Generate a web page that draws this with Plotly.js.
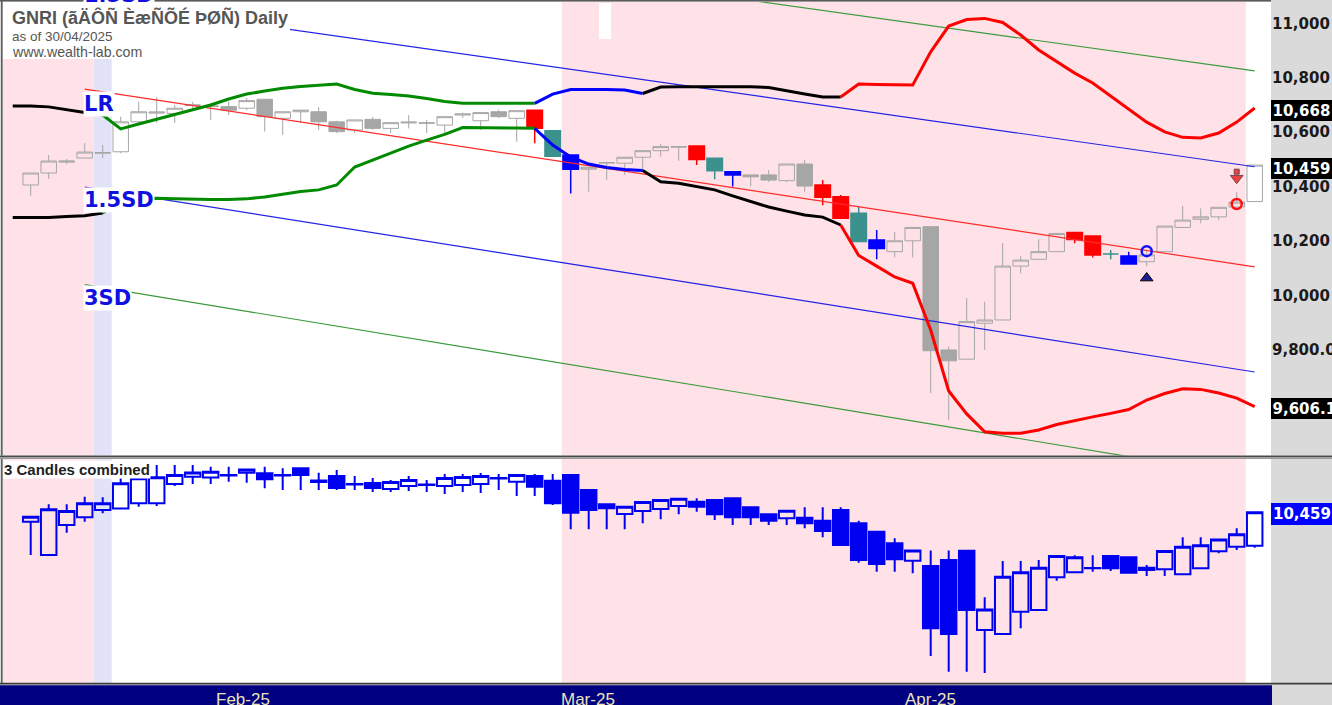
<!DOCTYPE html>
<html><head><meta charset="utf-8">
<script src="https://cdn.plot.ly/plotly-3.0.1.min.js"></script>
<style>html,body{margin:0;padding:0;background:#fff;overflow:hidden}#chart{width:1332px;height:705px}</style>
</head><body><div id="chart"></div>
<script>
// ---------------- DATA ----------------
const titleText = "GNRI (ãÄÔÑ ÈæÑÕÉ ÞØÑ) Daily";
const asOfText = "as of 30/04/2025";
const siteText = "www.wealth-lab.com";
const monthLabels = ["Feb-25", "Mar-25", "Apr-25"];

// daily candles (upper pane)
const openU  = [10406,10450,10490,10505,10523,10528,10638,10670,10669,10698,10694,10694,10688,10721,10651,10675,10675,10638,10608,10647,10614,10634,10633,10626,10663,10642,10675,10651,10681,10605,10516,10464,10487,10486,10508,10532,10545,10549,10504,10455,10443,10443,10422,10483,10406,10363,10302,10204,10161,10201,10253,9800,9766,9898,9910,10108,10133,10161,10231,10219,10152,10145,10124,10161,10250,10280,10289,10325,10345];
const highU  = [10450,10516,10501,10560,10553,10657,10712,10729,10700,10712,10707,10712,10726,10721,10675,10681,10692,10642,10645,10656,10635,10663,10645,10657,10672,10672,10683,10679,10681,10605,10516,10472,10491,10508,10532,10557,10548,10549,10504,10455,10443,10461,10483,10498,10424,10369,10326,10241,10234,10250,10253,9812,9990,9977,10192,10145,10206,10228,10231,10219,10167,10161,10163,10255,10329,10320,10324,10380,10479];
const lowU   = [10366,10428,10483,10505,10505,10523,10626,10634,10634,10681,10645,10663,10681,10602,10590,10634,10608,10597,10597,10608,10597,10614,10597,10590,10652,10608,10652,10565,10559,10512,10375,10381,10424,10443,10458,10510,10495,10479,10427,10400,10402,10417,10417,10381,10332,10284,10198,10133,10140,10140,9641,9543,9766,9800,9910,10081,10133,10161,10192,10140,10133,10116,10108,10161,10250,10265,10277,10325,10345];
const closeU = [10450,10494,10494,10527,10525,10638,10675,10674,10688,10700,10696,10681,10716,10657,10675,10681,10638,10602,10645,10614,10635,10637,10634,10657,10667,10672,10657,10679,10614,10512,10464,10471,10488,10508,10532,10547,10547,10500,10458,10443,10436,10424,10483,10402,10361,10284,10198,10173,10201,10250,9797,9760,9904,9910,10108,10130,10161,10228,10206,10149,10152,10116,10149,10255,10277,10289,10324,10343,10479];

// pattern-highlighted bars
const redBars  = [28,37,44,45,58,59];
const tealBars = [29,38,46,60];
const blueBars = [30,39,47,61];

// "3 Candles combined" (lower pane)
const openL  = [10424,10228,10404,10450,10492,10502,10532,10532,10645,10688,10684,10695,10711,10708,10698,10737,10666,10692,10645,10651,10616,10633,10639,10633,10639,10645,10677,10659,10692,10664,10698,10610,10526,10469,10487,10498,10516,10541,10551,10561,10508,10467,10444,10447,10430,10492,10414,10365,10297,10195,10164,10199,10253,9788,9764,9895,9905,10097,10127,10150,10222,10215,10154,10144,10115,10150,10250,10277,10283];
const highL  = [10453,10526,10526,10571,10567,10679,10680,10757,10757,10757,10747,10747,10731,10747,10737,10737,10711,10727,10692,10680,10669,10692,10669,10704,10704,10710,10704,10698,10704,10704,10698,10610,10526,10512,10540,10551,10559,10561,10551,10561,10508,10467,10488,10508,10508,10508,10430,10365,10326,10254,10254,10254,10254,9980,10193,10193,10199,10222,10227,10227,10222,10215,10170,10252,10332,10332,10320,10385,10479];
const lowL   = [10228,10228,10359,10424,10473,10502,10512,10516,10633,10645,10645,10659,10653,10620,10610,10610,10610,10610,10610,10598,10598,10604,10598,10586,10598,10592,10610,10575,10575,10522,10379,10379,10379,10379,10414,10438,10467,10482,10434,10404,10404,10404,10404,10385,10332,10287,10183,10130,10130,10121,9635,9543,9543,9535,9764,9798,9905,10077,10127,10130,10134,10124,10105,10105,10115,10150,10238,10258,10271];
const closeL = [10453,10497,10487,10532,10532,10649,10679,10685,10698,10712,10717,10698,10731,10673,10695,10698,10657,10622,10642,10622,10657,10669,10642,10680,10686,10692,10680,10698,10629,10532,10477,10493,10503,10512,10540,10551,10559,10512,10467,10450,10450,10430,10488,10414,10369,10287,10199,10175,10203,10254,9798,9764,9905,9908,10101,10127,10154,10222,10215,10152,10150,10124,10140,10252,10277,10285,10320,10350,10479];

// bands (first value belongs to the bar just before the visible window)
const bandFirstBar = -1;
const upperBand = [10696,10696,10693,10682,10672,10663,10612,10630,10647,10665,10682,10700,10722,10740,10751,10761,10768,10773,10777,10757,10743,10738,10733,10724,10713,10706,10706,10706,10706,10706,10740,10757,10758,10757,10755,10742,10766,10767,10767,10767,10767,10767,10764,10751,10740,10729,10729,10777,10775,10773,10773,10895,10990,11014,11018,11003,10957,10902,10858,10817,10781,10733,10685,10637,10601,10581,10579,10597,10637,10689];
const lowerBand = [10287,10287,10287,10290,10293,10303,10355,10356,10357,10355,10353,10353,10353,10355,10362,10373,10382,10388,10406,10472,10498,10524,10549,10571,10592,10617,10617,10616,10615,10614,10553,10509,10483,10470,10463,10459,10418,10412,10400,10388,10366,10345,10325,10310,10296,10288,10259,10147,10108,10068,10045,9873,9649,9565,9499,9494,9494,9506,9526,9541,9554,9567,9581,9616,9640,9657,9655,9642,9623,9592];
const bandRegimeBreaks = [-1,4,28,34,45,68];

// linear regression channel (start / end bar)
const channelIdx = [3, 68];
const lrLine = [10758, 10105];
const sdUp15 = [11085, 10473];
const sdUp30 = [11427, 10825];
const sdDn15 = [10398, 9719];
const sdDn30 = [10040, 9332];

// signals
const buySignal  = {bar: 62, circle: 10163, triangle: 10064};
const sellSignal = {bar: 67, circle: 10336, arrow: 10435};

// right-axis tick labels and value flags
const yTickVals = [9800,10000,10200,10400,10600,10800,11000];
const yTickText = ["9,800.0","10,000","10,200","10,400","10,600","10,800","11,000"];
const flagTextU = ["10,668","10,459","9,606.1"];
const flagValU  = [10680, 10467, 9583];
const flagTextL = "10,459";
const flagValL  = 10467;

// ---------------- LAYOUT HELPERS ----------------
const W = 1332, H = 705, PL = 3, PR = 1271, PT = 2, PB = 683;
const px2x = p => (p - PL) / (PR - PL);
const px2y = p => (PB - p) / (PB - PT);
const barPx = 18, firstBarPx = 30.7;
const xr0 = -(firstBarPx - PL) / barPx, xr1 = xr0 + (PR - PL) / barPx;
const monthTickPx = [243.5, 588, 930];

const N = closeU.length;
const idx = Array.from({length: N}, (_, i) => i);
const bandIdx = upperBand.map((_, k) => k + bandFirstBar);
const pick = (a, l) => l.map(i => a[i]);
const sigSet = new Set([...redBars, ...tealBars, ...blueBars]);
const plain = idx.filter(i => !sigSet.has(i));

const GRAY = '#a6a6a6', PINK = '#ffe2e7', LAV = '#e2e2f8';
const traces = [];

traces.push({type:'candlestick', x: pick(idx, plain), open: pick(openU, plain), high: pick(highU, plain),
  low: pick(lowU, plain), close: pick(closeU, plain), xaxis:'x', yaxis:'y', whiskerwidth:0,
  increasing:{line:{color:GRAY, width:1}, fillcolor:'rgba(0,0,0,0)'},
  decreasing:{line:{color:GRAY, width:1}, fillcolor:GRAY}, hoverinfo:'skip'});

[[redBars,'#ff0000'],[tealBars,'#3a918d'],[blueBars,'#0000ff']].forEach(([l,c]) => {
  traces.push({type:'candlestick', x: pick(idx,l), open: pick(openU,l), high: pick(highU,l),
    low: pick(lowU,l), close: pick(closeU,l), xaxis:'x', yaxis:'y', whiskerwidth:0,
    increasing:{line:{color:c, width:1.5}, fillcolor:c}, decreasing:{line:{color:c, width:1.5}, fillcolor:c}, hoverinfo:'skip'});
});

// channel lines
[[sdUp30,'#3a9a3a'],[sdUp15,'#2424e6'],[lrLine,'#ff2a2a'],[sdDn15,'#2424e6'],[sdDn30,'#3a9a3a']].forEach(([v,c]) => {
  traces.push({type:'scatter', mode:'lines', x: channelIdx, y: v, xaxis:'x', yaxis:'y',
    line:{color:c, width:1.2}, hoverinfo:'skip'});
});

// bands
const regimeColors = ['#000000','#008a00','#0000ff','#000000','#ff0000'];
for (let k = 0; k < bandRegimeBreaks.length - 1; k++) {
  const a = bandRegimeBreaks[k] - bandFirstBar, b = bandRegimeBreaks[k+1] - bandFirstBar;
  [upperBand, lowerBand].forEach(band => {
    traces.push({type:'scatter', mode:'lines', x: bandIdx.slice(a, b+1), y: band.slice(a, b+1),
      xaxis:'x', yaxis:'y', line:{color: regimeColors[k], width:3}, hoverinfo:'skip'});
  });
}

// signals
traces.push({type:'scatter', mode:'markers', x:[buySignal.bar], y:[buySignal.triangle], xaxis:'x', yaxis:'y',
  marker:{symbol:'triangle-up', size:11, color:'#1e1e96', line:{color:'#000', width:1}}, hoverinfo:'skip'});
traces.push({type:'scatter', mode:'markers', x:[buySignal.bar], y:[buySignal.circle], xaxis:'x', yaxis:'y',
  marker:{symbol:'circle-open', size:10, color:'#1010ff', line:{width:2.5}}, hoverinfo:'skip'});
traces.push({type:'scatter', mode:'markers', x:[sellSignal.bar], y:[sellSignal.circle], xaxis:'x', yaxis:'y',
  marker:{symbol:'circle-open', size:10, color:'#ff1010', line:{width:2.5}}, hoverinfo:'skip'});
traces.push({type:'scatter', mode:'markers', x:[sellSignal.bar, sellSignal.bar], y:[sellSignal.arrow + 20, sellSignal.arrow - 4], xaxis:'x', yaxis:'y',
  marker:{symbol:['square','triangle-down'], size:[5,11], color:'#e00000', line:{color:'#400000', width:1}}, hoverinfo:'skip'});

// lower pane candles
const BLUE = '#0000f0';
traces.push({type:'candlestick', x: idx, open: openL, high: highL, low: lowL, close: closeL,
  xaxis:'x', yaxis:'y2', whiskerwidth:0,
  increasing:{line:{color:BLUE, width:2}, fillcolor:'rgba(0,0,0,0)'},
  decreasing:{line:{color:BLUE, width:2}, fillcolor:BLUE}, hoverinfo:'skip'});

// ---------------- SHAPES ----------------
const shapes = [
  {type:'rect', xref:'x', yref:'paper', x0:xr0-1, x1:3.5, y0:0, y1:1, fillcolor:PINK, line:{width:0}, layer:'below'},
  {type:'rect', xref:'x', yref:'paper', x0:3.5, x1:4.5, y0:0, y1:1, fillcolor:LAV, line:{width:0}, layer:'below'},
  {type:'rect', xref:'x', yref:'paper', x0:29.5, x1:67.5, y0:0, y1:1, fillcolor:PINK, line:{width:0}, layer:'below'},
  // title box
  {type:'rect', xref:'paper', yref:'paper', x0:px2x(3), x1:px2x(290), y0:px2y(59), y1:px2y(2), fillcolor:'#ffffff', line:{width:0}, layer:'above'},
  {type:'rect', xref:'paper', yref:'paper', x0:px2x(599), x1:px2x(611), y0:px2y(39), y1:px2y(3), fillcolor:'#ffffff', line:{width:0}, layer:'above'},
  // frame / separators
  {type:'line', xref:'paper', yref:'paper', x0:px2x(0), x1:px2x(PR), y0:px2y(0.7), y1:px2y(0.7), line:{color:'#5a5a5a', width:1.5}, layer:'above'},
  {type:'line', xref:'paper', yref:'paper', x0:px2x(1.8), x1:px2x(1.8), y0:px2y(0), y1:px2y(684), line:{color:'#5a5a5a', width:1.5}, layer:'above'},
  {type:'rect', xref:'paper', yref:'paper', x0:px2x(0), x1:px2x(W), y0:px2y(459), y1:px2y(455.5), fillcolor:'#ffffff', line:{width:0}, layer:'above'},
  {type:'line', xref:'paper', yref:'paper', x0:px2x(0), x1:px2x(W), y0:px2y(456.5), y1:px2y(456.5), line:{color:'#4a4a4a', width:2}, layer:'above'},
  {type:'line', xref:'paper', yref:'paper', x0:px2x(0), x1:px2x(W), y0:px2y(458.5), y1:px2y(458.5), line:{color:'#9a9a9a', width:1}, layer:'above'},
  {type:'line', xref:'paper', yref:'paper', x0:px2x(0), x1:px2x(W), y0:px2y(683.6), y1:px2y(683.6), line:{color:'#3c3c3c', width:1.6}, layer:'above'},
  {type:'rect', xref:'paper', yref:'paper', x0:px2x(0), x1:px2x(1272), y0:px2y(706), y1:px2y(685.3), fillcolor:'#000080', line:{width:0}, layer:'above'}
];

// ---------------- ANNOTATIONS ----------------
const ann = [];
const titleFont = {family:'Liberation Sans, Arial, sans-serif', color:'#565656'};
ann.push({xref:'paper', yref:'paper', x:px2x(10), y:px2y(17.5), xanchor:'left', yanchor:'middle', showarrow:false,
  text:titleText, font:Object.assign({size:18, weight:'bold'}, titleFont)});
ann.push({xref:'paper', yref:'paper', x:px2x(10), y:px2y(36), xanchor:'left', yanchor:'middle', showarrow:false,
  text:asOfText, font:Object.assign({size:13.5}, titleFont)});
ann.push({xref:'paper', yref:'paper', x:px2x(10), y:px2y(52), xanchor:'left', yanchor:'middle', showarrow:false,
  text:siteText, font:Object.assign({size:14.2}, titleFont)});

const lblFont = {family:'DejaVu Sans, Verdana, sans-serif', size:21, color:'#1010e0', weight:'bold'};
[['1.5SD',-5],['LR',104],['1.5SD',199.5],['3SD',297.5]].forEach(([t,py]) => {
  ann.push({xref:'paper', yref:'paper', x:px2x(83), y:px2y(py), xanchor:'left', yanchor:'middle', showarrow:false,
    text:t, font:lblFont, bgcolor:'#ffffff', borderpad:0});
});

ann.push({xref:'paper', yref:'paper', x:px2x(3), y:px2y(469), xanchor:'left', yanchor:'middle', showarrow:false,
  text:'3 Candles combined', font:{family:'Liberation Sans, Arial, sans-serif', size:15, color:'#222', weight:'bold'},
  bgcolor:'#ffffff', borderpad:0});

const flagFont = {family:'DejaVu Sans, Verdana, sans-serif', size:15, color:'#ffffff', weight:'bold'};
flagTextU.forEach((t, k) => {
  ann.push({xref:'paper', yref:'y', x:1, y:flagValU[k], xanchor:'left', yanchor:'middle', showarrow:false,
    text:t, font:flagFont, bgcolor:'#000000', borderpad:1.5, borderwidth:0});
});
ann.push({xref:'paper', yref:'y2', x:1, y:flagValL, xanchor:'left', yanchor:'middle', showarrow:false,
  text:flagTextL, font:flagFont, bgcolor:'#0000ff', borderpad:2, borderwidth:0});

monthLabels.forEach((t, k) => {
  ann.push({xref:'paper', yref:'paper', x:px2x(monthTickPx[k]), y:px2y(699), xanchor:'center', yanchor:'middle', showarrow:false,
    text:t, font:{family:'Liberation Sans, Arial, sans-serif', size:17, color:'#ebe3b8'}});
});

// ---------------- LAYOUT ----------------
const layout = {
  width:W, height:H, margin:{l:PL, r:W-PR, t:PT, b:H-PB, pad:0},
  paper_bgcolor:'#dadada', plot_bgcolor:'#ffffff', showlegend:false, hovermode:false, dragmode:false,
  boxgap:0.14, boxgroupgap:0,
  xaxis:{range:[xr0, xr1], anchor:'y2', showgrid:false, zeroline:false, showticklabels:false, ticks:'', showline:false,
    rangeslider:{visible:false}, fixedrange:true},
  yaxis:{domain:[px2y(456), 1], range:[9410.3, 11078.3], side:'right', anchor:'x', showgrid:false, zeroline:false,
    tickvals:yTickVals, ticktext:yTickText, ticks:'', showline:false, fixedrange:true,
    tickfont:{family:'DejaVu Sans, Verdana, sans-serif', size:15, color:'#1a1a1a', weight:'bold'}},
  yaxis2:{domain:[0, px2y(459)], range:[9476.6, 10792], side:'right', anchor:'x', showgrid:false, zeroline:false,
    showticklabels:false, ticks:'', showline:false, fixedrange:true},
  shapes:shapes, annotations:ann
};

Plotly.newPlot('chart', traces, layout, {staticPlot:true, displayModeBar:false});
</script></body></html>
